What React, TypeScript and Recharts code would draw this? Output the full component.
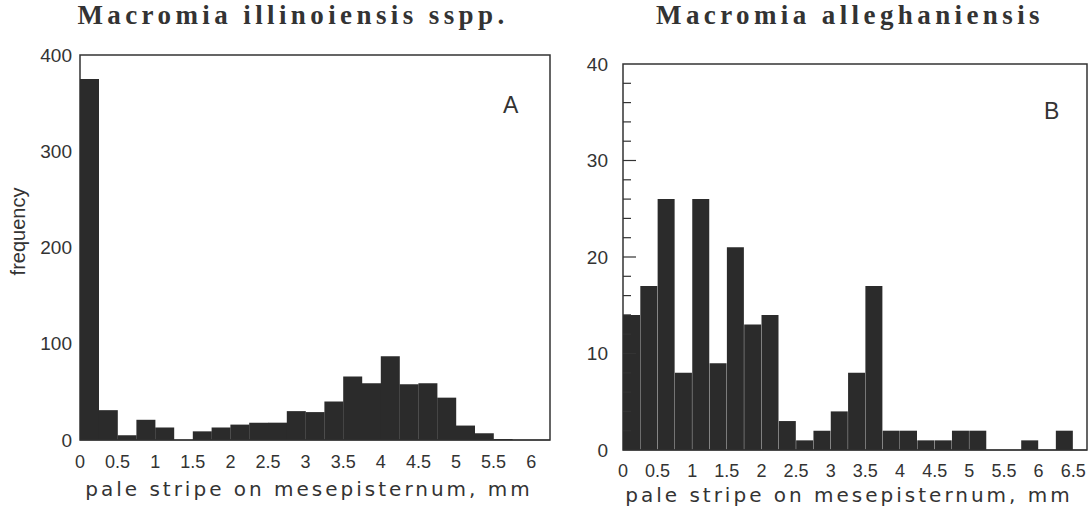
import { BarChart, Bar, XAxis, YAxis, ReferenceArea } from 'recharts';

// bin width, mm
const BIN = 0.25;

// Macromia illinoiensis sspp. (panel A)
const binStartA = [0, 0.25, 0.5, 0.75, 1, 1.25, 1.5, 1.75, 2, 2.25, 2.5, 2.75, 3, 3.25, 3.5, 3.75, 4, 4.25, 4.5, 4.75, 5, 5.25, 5.5, 5.75, 6];
const countA = [375, 31, 5, 21, 13, 0, 9, 13, 16, 18, 18, 30, 29, 40, 66, 59, 87, 58, 59, 44, 15, 7, 1, 0, 0];
const xTicksA = [0, 0.25, 0.5, 0.75, 1, 1.25, 1.5, 1.75, 2, 2.25, 2.5, 2.75, 3, 3.25, 3.5, 3.75, 4, 4.25, 4.5, 4.75, 5, 5.25, 5.5, 5.75, 6];
const yTicksA = [0, 100, 200, 300, 400];

// Macromia alleghaniensis (panel B)
const binStartB = [0, 0.25, 0.5, 0.75, 1, 1.25, 1.5, 1.75, 2, 2.25, 2.5, 2.75, 3, 3.25, 3.5, 3.75, 4, 4.25, 4.5, 4.75, 5, 5.25, 5.5, 5.75, 6, 6.25];
const countB = [14, 17, 26, 8, 26, 9, 21, 13, 14, 3, 1, 2, 4, 8, 17, 2, 2, 1, 1, 2, 2, 0, 0, 1, 0, 2];
const xTicksB = [0, 0.25, 0.5, 0.75, 1, 1.25, 1.5, 1.75, 2, 2.25, 2.5, 2.75, 3, 3.25, 3.5, 3.75, 4, 4.25, 4.5, 4.75, 5, 5.25, 5.5, 5.75, 6, 6.25, 6.5];
const yTicksB = [0, 2, 4, 6, 8, 10, 12, 14, 16, 18, 20, 22, 24, 26, 28, 30, 32, 34, 36, 38, 40];

const dataA = binStartA.map((s, i) => ({ x: s + BIN / 2, n: countA[i] }));
const dataB = binStartB.map((s, i) => ({ x: s + BIN / 2, n: countB[i] }));

const INK = '#333';
const BAR = '#2b2b2b';
const SANS = '"Liberation Sans", Arial, sans-serif';
const SERIF = '"Liberation Serif", "Times New Roman", serif';

const isHalf = (v: number) => Math.abs(v * 2 - Math.round(v * 2)) < 1e-6;

// only label the 0.5 mm ticks, the 0.25 ones just set the bin width
function XTick(props: any) {
  const { x, y, payload } = props;
  if (!isHalf(payload.value)) return null;
  return (
    <text x={x} y={y} dy="0.71em" textAnchor="middle" fontSize={18} fontFamily={SANS} fill={INK}>
      {String(payload.value)}
    </text>
  );
}

function XTitle(props: any) {
  const { viewBox, off } = props;
  return (
    <text
      x={viewBox.x + viewBox.width / 2 - 6}
      y={viewBox.y + off}
      textAnchor="middle"
      fontSize={20}
      letterSpacing={3}
      fontFamily='"DejaVu Sans", sans-serif'
      fill={INK}
    >
      pale stripe on mesepisternum, mm
    </text>
  );
}

function FreqLabel(props: any) {
  const { viewBox } = props;
  const cx = viewBox.x + 18;
  const cy = viewBox.y + viewBox.height / 2 - 16;
  return (
    <text x={cx} y={cy} dy="0.35em" textAnchor="middle" fontSize={20} fontFamily={SANS} fill={INK} transform={`rotate(-90 ${cx} ${cy})`}>
      frequency
    </text>
  );
}

const B_TICK_MARGIN = 15;
function TickB(props: any) {
  const { x, y, payload } = props;
  const v = payload.value;
  const major = v % 10 === 0;
  const ax = x + B_TICK_MARGIN;
  return (
    <g>
      {v > 0 && v < 40 && (
        <line x1={ax} x2={ax + (major ? 13 : 8)} y1={y} y2={y} stroke={INK} strokeWidth={1.2} />
      )}
      {major && (
        <text x={x} y={y} dy="0.35em" textAnchor="end" fontSize={19} fontFamily={SANS} fill={INK}>
          {v}
        </text>
      )}
    </g>
  );
}

const titleStyle = {
  position: 'absolute' as const,
  top: 0,
  fontFamily: SERIF,
  fontWeight: 'bold' as const,
  fontSize: 27,
  letterSpacing: 4.4,
  color: INK,
  textAlign: 'center' as const,
  whiteSpace: 'nowrap' as const,
};

const panelStyle = {
  position: 'absolute' as const,
  fontFamily: SANS,
  fontSize: 23,
  color: INK,
};

export default function App() {
  return (
    <div style={{ position: 'absolute', left: 0, top: 0, width: 1091, height: 515, background: '#fff', overflow: 'hidden' }}>
      <div style={{ ...titleStyle, left: 0, width: 578, paddingLeft: 4 }}>Macromia illinoiensis sspp.</div>
      <div style={{ ...titleStyle, left: 586, width: 520, paddingLeft: 4 }}>Macromia alleghaniensis</div>

      <div style={{ position: 'absolute', left: 0, top: 0 }}>
        <BarChart width={565} height={515} data={dataA} margin={{ top: 55, right: 15, bottom: 15, left: 0 }} barCategoryGap={0}>
          <XAxis
            dataKey="x"
            type="number"
            domain={[0, 6.25]}
            allowDataOverflow
            ticks={xTicksA}
            interval={0}
            tickSize={0}
            tickLine={false}
            tickMargin={15}
            height={60}
            stroke={INK}
            tick={<XTick />}
            label={<XTitle off={56} />}
          />
          <YAxis
            type="number"
            domain={[0, 400]}
            ticks={yTicksA}
            interval={0}
            width={80}
            tickSize={0}
            tickLine={false}
            tickMargin={8}
            axisLine={false}
            tick={{ fontSize: 19, fill: INK, fontFamily: SANS }}
            label={<FreqLabel />}
          />
          <ReferenceArea x1={0} x2={6.25} y1={0} y2={400} fill="none" stroke={INK} strokeWidth={1.5} ifOverflow="visible" />
          <Bar dataKey="n" fill={BAR} isAnimationActive={false} />
        </BarChart>
      </div>

      <div style={{ position: 'absolute', left: 565, top: 0 }}>
        <BarChart width={526} height={515} data={dataB} margin={{ top: 64, right: 4, bottom: 10, left: 0 }} barCategoryGap={0}>
          <XAxis
            dataKey="x"
            type="number"
            domain={[0, 6.7]}
            allowDataOverflow
            ticks={xTicksB}
            interval={0}
            tickSize={0}
            tickLine={false}
            tickMargin={14}
            height={55}
            stroke={INK}
            tick={<XTick />}
            label={<XTitle off={52} />}
          />
          <YAxis
            type="number"
            domain={[0, 40]}
            ticks={yTicksB}
            interval={0}
            width={58}
            tickSize={0}
            tickLine={false}
            tickMargin={B_TICK_MARGIN}
            axisLine={false}
            tick={<TickB />}
          />
          <ReferenceArea x1={0} x2={6.7} y1={0} y2={40} fill="none" stroke={INK} strokeWidth={1.5} ifOverflow="visible" />
          <Bar dataKey="n" fill={BAR} isAnimationActive={false} />
        </BarChart>
      </div>

      <div style={{ ...panelStyle, left: 503, top: 92 }}>A</div>
      <div style={{ ...panelStyle, left: 1044, top: 98 }}>B</div>
    </div>
  );
}
